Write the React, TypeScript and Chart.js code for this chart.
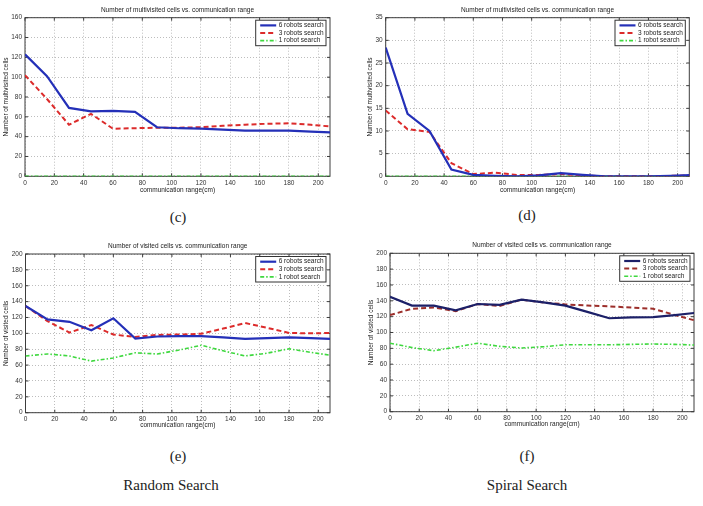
import React, { useEffect, useRef } from 'react';
import { Chart, registerables } from 'chart.js';

Chart.register(...registerables);

// Communication range samples (cm)
const rangeCm = [0, 15, 30, 45, 60, 75, 90, 105, 120, 135, 150, 165, 180, 195, 210];

// (c) Random search: number of multivisited cells
const randomMulti6 = [123, 101, 69, 65.5, 66, 65, 49.5, 48.5, 48, 47, 46, 46, 46, 45, 44.3];
const randomMulti3 = [102, 78, 52, 63, 48, 48.5, 49, 49, 49.5, 51, 52, 53, 53.5, 52, 50];
const randomMulti1 = [0, 0, 0, 0, 0, 0, 0, 0, 0, 0, 0, 0, 0, 0, 0];

// (d) Spiral search: number of multivisited cells
const spiralMulti6 = [28.4, 13.8, 10, 1.5, 0.3, 0.1, 0, 0.2, 0.7, 0.3, 0, 0, 0, 0.1, 0.3];
const spiralMulti3 = [14.5, 10.4, 9.8, 2.9, 0.5, 0.8, 0.3, 0.3, 0.5, 0.2, 0, 0, 0, 0.1, 0.2];
const spiralMulti1 = [0, 0, 0, 0, 0, 0, 0, 0, 0, 0, 0, 0, 0, 0, 0];

// (e) Random search: number of visited cells
const randomVisit6 = [134.5, 117.5, 114.5, 104, 119, 93.5, 96, 96.5, 96.5, 95, 93, 94, 95, 94, 93];
const randomVisit3 = [134.5, 115.5, 101, 110.5, 98.5, 95.5, 98, 98.5, 99.5, 106, 113, 107, 100.5, 100, 100.5];
const randomVisit1 = [71.5, 74, 71.5, 65, 69, 75.5, 74, 79, 85, 78, 71.5, 75, 80.5, 76, 72];

// (f) Spiral search: number of visited cells
const spiralVisit6 = [145, 134, 134, 128, 136, 135, 141.5, 138, 134, 126, 118, 119, 119.5, 122, 125];
const spiralVisit3 = [122, 130, 131.5, 127, 136, 133.5, 141.5, 138, 135.5, 134, 133, 131.5, 130, 122, 114.5];
const spiralVisit1 = [86.5, 81, 77, 81.5, 86.5, 82.5, 80.5, 82, 84.5, 84.5, 84.5, 85, 85.5, 85, 84];

const seriesLabels = ['6 robots search', '3 robots search', '1 robot search'];

const X_MAX = 208;
const SMALL_FONT = '"Liberation Sans", Arial, Helvetica, sans-serif';
const FONT_SIZE = 6.5;

type Style = { color: string; width: number; dash: number[] };

const blue: Style = { color: '#2430b8', width: 2.2, dash: [] };
const red: Style = { color: '#dc2b2b', width: 2, dash: [5, 3] };
const green: Style = { color: '#3fd83f', width: 1.6, dash: [4, 2, 1.5, 2] };
const navy: Style = { color: '#1c2068', width: 2.2, dash: [] };
const darkRed: Style = { color: '#9c2e2a', width: 2, dash: [5, 3] };

type Box = { l: number; t: number; r: number; b: number };
type PanelDef = {
  canvas: { x: number; y: number; w: number; h: number };
  plot: Box;
  title: string;
  titleY: number;
  xTitleY: number;
  yTitle: string;
  yTitleX: number;
  yMax: number;
  yStep: number;
  values: number[][];
  styles: Style[];
};

const multiTitle = 'Number of multivisited cells vs. communication range';
const visitTitle = 'Number of visited cells vs. communication range';

const panels: PanelDef[] = [
  {
    canvas: { x: 0, y: 0, w: 350, h: 200 },
    plot: { l: 25, t: 17.7, r: 330, b: 176.3 },
    title: multiTitle, titleY: 10, xTitleY: 190,
    yTitle: 'Number of multivisited cells', yTitleX: 6.5,
    yMax: 160, yStep: 20,
    values: [randomMulti6, randomMulti3, randomMulti1],
    styles: [blue, red, green],
  },
  {
    canvas: { x: 350, y: 0, w: 353, h: 200 },
    plot: { l: 385.7, t: 17.7, r: 689.3, b: 176.3 },
    title: multiTitle, titleY: 10, xTitleY: 190,
    yTitle: 'Number of multivisited cells', yTitleX: 370,
    yMax: 35, yStep: 5,
    values: [spiralMulti6, spiralMulti3, spiralMulti1],
    styles: [blue, red, green],
  },
  {
    canvas: { x: 0, y: 232, w: 350, h: 208 },
    plot: { l: 25.5, t: 254, r: 330, b: 412.7 },
    title: visitTitle, titleY: 246, xTitleY: 425,
    yTitle: 'Number of visited cells', yTitleX: 6.5,
    yMax: 200, yStep: 20,
    values: [randomVisit6, randomVisit3, randomVisit1],
    styles: [blue, red, green],
  },
  {
    canvas: { x: 350, y: 232, w: 353, h: 208 },
    plot: { l: 390, t: 253.3, r: 694, b: 411.7 },
    title: visitTitle, titleY: 245.7, xTitleY: 424.3,
    yTitle: 'Number of visited cells', yTitleX: 371,
    yMax: 200, yStep: 20,
    values: [spiralVisit6, spiralVisit3, spiralVisit1],
    styles: [navy, darkRed, green],
  },
];

const captions = [
  { text: '(c)', x: 178, y: 217 },
  { text: '(d)', x: 527, y: 215 },
  { text: '(e)', x: 178, y: 456 },
  { text: '(f)', x: 527, y: 456 },
  { text: 'Random Search', x: 171, y: 485 },
  { text: 'Spiral Search', x: 527, y: 485 },
];

// Box, inward tick marks, legend and titles drawn in MATLAB style
const figurePlugin = {
  id: 'figureFrame',
  beforeDatasetsDraw(chart: any) {
    const { ctx, chartArea: a, scales } = chart;
    ctx.save();
    ctx.strokeStyle = '#3c3c3c';
    ctx.lineWidth = 1;
    ctx.setLineDash([]);
    ctx.strokeRect(a.left, a.top, a.right - a.left, a.bottom - a.top);
    ctx.beginPath();
    for (const t of scales.x.ticks) {
      const px = scales.x.getPixelForValue(t.value);
      ctx.moveTo(px, a.bottom);
      ctx.lineTo(px, a.bottom - 3);
      ctx.moveTo(px, a.top);
      ctx.lineTo(px, a.top + 3);
    }
    for (const t of scales.y.ticks) {
      const py = scales.y.getPixelForValue(t.value);
      ctx.moveTo(a.left, py);
      ctx.lineTo(a.left + 3, py);
      ctx.moveTo(a.right, py);
      ctx.lineTo(a.right - 3, py);
    }
    ctx.stroke();
    ctx.restore();
  },
  afterDraw(chart: any, _args: any, opts: any) {
    const { ctx, chartArea: a } = chart;
    const cx = (a.left + a.right) / 2;
    ctx.save();
    ctx.font = `${FONT_SIZE}px ${SMALL_FONT}`;
    ctx.fillStyle = '#222';
    ctx.textBaseline = 'middle';
    ctx.textAlign = 'center';
    ctx.fillText(opts.title, cx, opts.titleY);
    ctx.fillText('communication range(cm)', cx, opts.xTitleY);
    ctx.save();
    ctx.translate(opts.yTitleX, (a.top + a.bottom) / 2);
    ctx.rotate(-Math.PI / 2);
    ctx.fillText(opts.yTitle, 0, 0);
    ctx.restore();

    // legend
    const datasets = chart.data.datasets;
    const textW = Math.max(...datasets.map((d: any) => ctx.measureText(d.label).width));
    const lineLen = 16;
    const w = 4.5 + lineLen + 2.5 + textW + 2.5;
    const h = 25.5;
    const bx = a.right - 4 - w;
    const by = a.top + 2.5;
    ctx.fillStyle = '#fff';
    ctx.fillRect(bx, by, w, h);
    ctx.strokeStyle = '#333';
    ctx.lineWidth = 1;
    ctx.strokeRect(bx, by, w, h);
    datasets.forEach((d: any, i: number) => {
      const y = by + 5.2 + i * 7.6;
      ctx.beginPath();
      ctx.setLineDash(d.borderDash || []);
      ctx.strokeStyle = d.borderColor;
      ctx.lineWidth = d.borderWidth;
      ctx.moveTo(bx + 4.5, y);
      ctx.lineTo(bx + 4.5 + lineLen, y);
      ctx.stroke();
      ctx.setLineDash([]);
      ctx.fillStyle = '#222';
      ctx.textAlign = 'left';
      ctx.fillText(d.label, bx + 4.5 + lineLen + 2.5, y);
    });
    ctx.restore();
  },
};

function Panel({ def }: { def: PanelDef }) {
  const ref = useRef<HTMLCanvasElement | null>(null);

  useEffect(() => {
    const canvas = ref.current;
    if (!canvas) return;
    const { canvas: c, plot: p } = def;
    const tickFont = { family: SMALL_FONT, size: FONT_SIZE };
    const chart = new Chart(canvas, {
      type: 'line',
      data: {
        datasets: def.values.map((vals, i) => ({
          label: seriesLabels[i],
          data: rangeCm.map((x, j) => ({ x, y: vals[j] })),
          borderColor: def.styles[i].color,
          borderWidth: def.styles[i].width,
          borderDash: def.styles[i].dash,
          pointRadius: 0,
          fill: false,
          tension: 0,
        })),
      },
      options: {
        responsive: false,
        animation: false,
        devicePixelRatio: 1,
        events: [],
        layout: {
          padding: { left: 0, top: p.t - c.y, right: c.x + c.w - p.r, bottom: 0 },
        },
        plugins: {
          legend: { display: false },
          tooltip: { enabled: false },
          figureFrame: {
            title: def.title,
            titleY: def.titleY - c.y,
            xTitleY: def.xTitleY - c.y,
            yTitle: def.yTitle,
            yTitleX: def.yTitleX - c.x,
          },
        } as any,
        scales: {
          x: {
            type: 'linear',
            min: 0,
            max: X_MAX,
            afterFit: (s: any) => { s.height = c.y + c.h - p.b; },
            ticks: {
              stepSize: 20,
              includeBounds: false,
              autoSkip: false,
              maxRotation: 0,
              padding: 3,
              font: tickFont,
              color: '#333',
            },
            grid: { color: '#bdbdbd', lineWidth: 1, drawTicks: false },
            border: { display: false, dash: [1, 2] },
          },
          y: {
            type: 'linear',
            min: 0,
            max: def.yMax,
            afterFit: (s: any) => { s.width = p.l - c.x; },
            ticks: {
              stepSize: def.yStep,
              includeBounds: false,
              padding: 3,
              font: tickFont,
              color: '#333',
            },
            grid: { color: '#bdbdbd', lineWidth: 1, drawTicks: false },
            border: { display: false, dash: [1, 2] },
          },
        },
      } as any,
      plugins: [figurePlugin],
    });
    return () => chart.destroy();
  }, [def]);

  const { canvas: c } = def;
  return (
    <canvas
      ref={ref}
      width={c.w}
      height={c.h}
      style={{ position: 'absolute', left: c.x, top: c.y, width: c.w, height: c.h }}
    />
  );
}

export default function App() {
  return (
    <div
      style={{
        position: 'absolute',
        left: 0,
        top: 0,
        width: 703,
        height: 506,
        background: '#fff',
        overflow: 'hidden',
      }}
    >
      {panels.map((def, i) => (
        <Panel key={i} def={def} />
      ))}
      {captions.map((cap) => (
        <div
          key={cap.text}
          style={{
            position: 'absolute',
            left: cap.x,
            top: cap.y,
            transform: 'translate(-50%, -50%)',
            fontFamily: '"Liberation Serif", "Times New Roman", serif',
            fontSize: 15,
            lineHeight: 1,
            color: '#222',
            whiteSpace: 'nowrap',
          }}
        >
          {cap.text}
        </div>
      ))}
    </div>
  );
}
